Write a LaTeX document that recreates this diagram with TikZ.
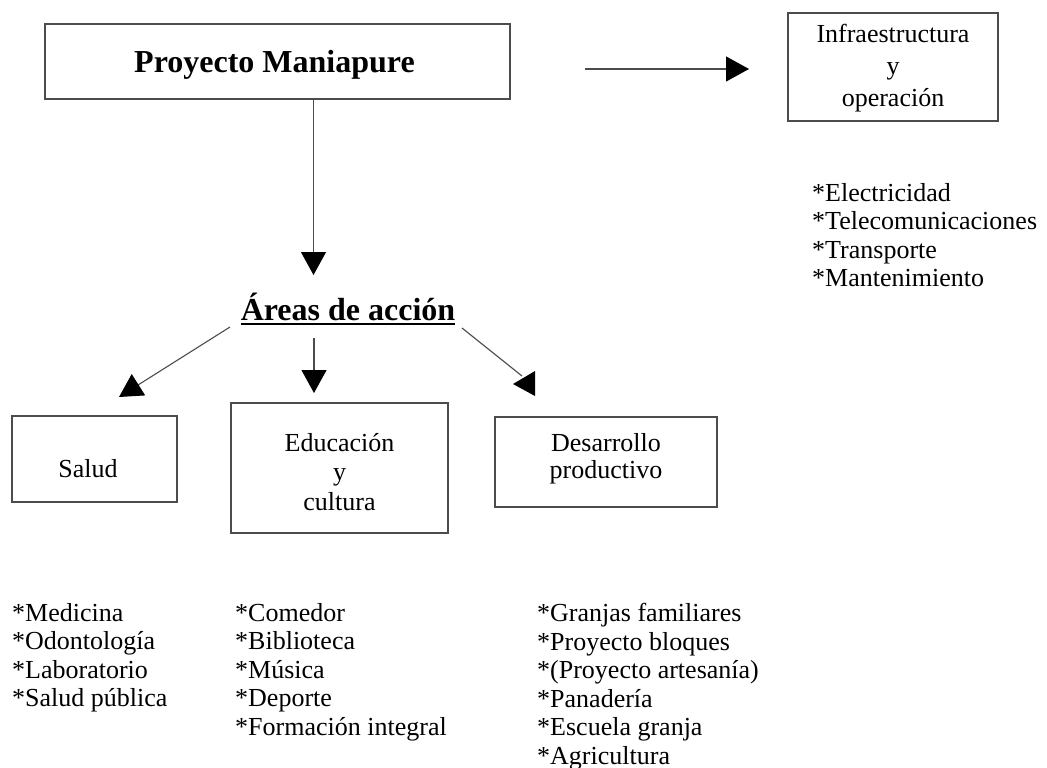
\documentclass[tikz,border=0pt]{standalone}
\usepackage{fontspec}
\setmainfont{Liberation Serif}
\usetikzlibrary{arrows.meta}
\begin{document}
\begin{tikzpicture}[x=1pt,y=-1pt,
  boxst/.style={draw=black!70,line width=1.3pt,inner sep=0pt},
  txt/.style={inner sep=0pt,font=\fontsize{26}{28.5}\selectfont},
  bold/.style={inner sep=0pt,font=\fontsize{32}{36}\selectfont\bfseries},
  conn/.style={draw=black!70,line width=1.1pt,-{Triangle[length=23pt,width=25pt,color=black]}},
  plain/.style={draw=black!70,line width=1.1pt}]
\useasboundingbox (0,0) rectangle (1047,768);
% boxes
\node[boxst,minimum width=465pt,minimum height=75pt] (pm) at (277.5,61.5) {};
\node[boxst,minimum width=210pt,minimum height=108pt] (infra) at (893,67) {};
\node[boxst,minimum width=165pt,minimum height=86pt] (salud) at (94.5,459) {};
\node[boxst,minimum width=217pt,minimum height=130pt] (edu) at (339.5,468) {};
\node[boxst,minimum width=222pt,minimum height=90pt] (des) at (606,462) {};
% box texts
\node[bold,anchor=base] (pmt) at (274.5,73) {Proyecto Maniapure};
\node[txt,anchor=north,align=center,font=\fontsize{26}{32}\selectfont] (infrat) at (893,24) {Infraestructura\\y\\operación};
\node[txt,anchor=base] (saludt) at (88,477) {Salud};
\node[txt,anchor=north,align=center,font=\fontsize{26}{29.5}\selectfont] (edut) at (339.5,433) {Educación\\y\\cultura};
\node[txt,anchor=north,align=center,font=\fontsize{26}{27}\selectfont] (dest) at (606,433) {Desarrollo\\productivo};
% areas
\node[bold,anchor=base] (areas) at (348,320) {Áreas de acción};
\draw[line width=2pt] ([yshift=-3.5pt]areas.base west) -- ([yshift=-3.5pt]areas.base east);
% lists
\node[txt,anchor=north west,align=left] (l1) at (812,183) {*Electricidad\\*Telecomunicaciones\\*Transporte\\*Mantenimiento};
\node[txt,anchor=north west,align=left] (l2) at (12,603) {*Medicina\\*Odontología\\*Laboratorio\\*Salud pública};
\node[txt,anchor=north west,align=left] (l3) at (235,603) {*Comedor\\*Biblioteca\\*Música\\*Deporte\\*Formación integral};
\node[txt,anchor=north west,align=left] (l4) at (537,603) {*Granjas familiares\\*Proyecto bloques\\*(Proyecto artesanía)\\*Panadería\\*Escuela granja\\*Agricultura};
% connectors
\coordinate (t1) at (313.5,275);
\draw[conn] ([xshift=36pt]pm.south) -- (t1);
\coordinate (r0) at (585,69);
\coordinate (r1) at (749,69);
\draw[conn] (r0) -- (r1);
\coordinate (s0) at (230,327);
\coordinate (s1) at (119,397);
\draw[conn] (s0) -- (s1);
\coordinate (m0) at (314,338);
\coordinate (m1) at (314,393);
\draw[conn] (m0) -- (m1);
\coordinate (d0) at (462,328);
\coordinate (d1) at (522,376);
\draw[plain] (d0) -- (d1);
\fill (513,384) -- (535,371) -- (535,396) -- cycle;
\end{tikzpicture}
\end{document}
